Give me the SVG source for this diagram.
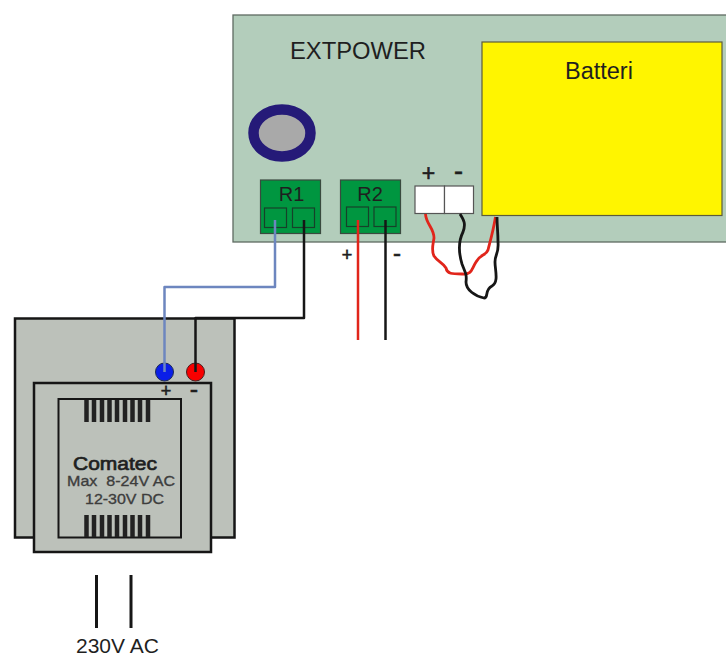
<svg xmlns="http://www.w3.org/2000/svg" width="726" height="656" viewBox="0 0 726 656">
<style>
text{font-family:"Liberation Sans",Arial,sans-serif;fill:#1f1f1f}
.w{fill:none;stroke-linejoin:round;stroke-linecap:butt}
.k{stroke:#161616}
.r{stroke:#e1251b}
.b{stroke:#6d86bf}
.tb{fill:#009640;stroke:#3a4a3f;stroke-width:1.2}
.slot{fill:#009640;stroke:#16412a;stroke-width:1.2}
.g{fill:#bcc1ba;stroke:#161616;stroke-width:2.5}
.fin{stroke:#222;stroke-width:4.5;fill:none}
.sub{fill:#3d3d3d;stroke:#3d3d3d;stroke-width:.35}
.sym{stroke:#1f1f1f;stroke-width:.6}
</style>
<rect width="726" height="656" fill="#fff"/>
<g id="extpower">
<rect x="233" y="15" width="500" height="227" fill="#b3cdbb" stroke="#5f6a62" stroke-width="1.300"/>
<text x="290" y="59" font-size="24" textLength="136" lengthAdjust="spacingAndGlyphs">EXTPOWER</text>
</g>
<g id="battery">
<rect x="482" y="42" width="240" height="173.500" fill="#fff500" stroke="#5c5c3a" stroke-width="1.200"/>
<text x="565" y="79" font-size="23.500">Batteri</text>
</g>
<g id="knob">
<ellipse cx="282" cy="133" rx="28.500" ry="23.500" fill="#a9a9a9" stroke="#251a78" stroke-width="10.500"/>
</g>
<g id="R1">
<rect class="tb" x="260.500" y="180" width="60" height="53.500"/>
<rect class="slot" x="264.500" y="208" width="22" height="19.500"/>
<rect class="slot" x="292.500" y="208" width="22" height="19.500"/>
<text x="291.500" y="201" font-size="20" text-anchor="middle">R1</text>
</g>
<g id="R2">
<rect class="tb" x="340.500" y="180" width="60" height="53.500"/>
<rect class="slot" x="346.500" y="207" width="22" height="19.500"/>
<rect class="slot" x="374" y="207" width="22" height="19.500"/>
<text x="370" y="201" font-size="20" text-anchor="middle">R2</text>
<text class="sym" x="347" y="261" font-size="18" text-anchor="middle">+</text>
<text class="sym" x="397" y="261" font-size="24" text-anchor="middle">-</text>
</g>
<g id="battery-terminal">
<rect x="415" y="186" width="29.500" height="27.500" fill="#fff" stroke="#555" stroke-width="1.200"/>
<rect x="444.500" y="186" width="29" height="27.500" fill="#fff" stroke="#555" stroke-width="1.200"/>
<text class="sym" x="428.500" y="181" font-size="23" text-anchor="middle">+</text>
<text class="sym" x="458.500" y="180" font-size="27" text-anchor="middle">-</text>
</g>
<g id="transformer">
<rect class="g" x="15" y="318.500" width="219.500" height="219"/>
<rect class="g" x="34" y="383" width="177" height="169"/>
<rect x="58.500" y="399" width="122.500" height="138.500" fill="#bcc1ba" stroke="#161616" stroke-width="2"/>
<path class="fin" d="M86.500 400v22M94 400v22M102 400v22M109.500 400v22M117 400v22M125 400v22M132.500 400v22M140 400v22M148 400v22M86.500 515v22M94 515v22M102 515v22M109.500 515v22M117 515v22M125 515v22M132.500 515v22M140 515v22M148 515v22"/>
<text x="73" y="470" font-size="19" stroke="#1f1f1f" stroke-width=".7" textLength="84" lengthAdjust="spacingAndGlyphs">Comatec</text>
<text class="sub" x="67" y="486" font-size="15" textLength="108" lengthAdjust="spacingAndGlyphs" xml:space="preserve">Max  8-24V AC</text>
<text class="sub" x="85" y="504" font-size="15" textLength="79" lengthAdjust="spacingAndGlyphs">12-30V DC</text>
<text class="sym" x="166" y="397" font-size="18" text-anchor="middle">+</text>
<text class="sym" x="194" y="398" font-size="25" text-anchor="middle">-</text>
</g>
<g id="terminal-blue"><circle cx="164.500" cy="372" r="9" fill="#0a1ee8" stroke="#1c2a55" stroke-width="1"/></g>
<g id="terminal-red"><circle cx="195.500" cy="372" r="9" fill="#f80000" stroke="#4a1c1c" stroke-width="1"/></g>
<g id="mains">
<path class="w k" stroke-width="3" d="M96.500 575v53M131 575v53"/>
<text x="76" y="653" font-size="21">230V AC</text>
</g>
<g id="connectors">
<path class="w b" stroke-width="2.500" d="M275 220V287H164.500V372"/>
<path class="w k" stroke-width="2.500" d="M304 220V318H195.500V372"/>
<path class="w r" stroke-width="2.500" d="M358 220V340"/>
<path class="w k" stroke-width="2.500" d="M385.500 220V340"/>
<path class="w r" stroke-width="2.800" d="M425.500 214C426 224 434 228 434 238C433 245 431 250 434 256C438 262 443 263 446 268C447 274 452 274 462 274C472 275 471 270 476 262C480 254 486 256 488 250C490 242 493 232 495.500 217"/>
<path class="w k" stroke-width="2.800" d="M460 214C464 220 466 224 463 232C458 242 459 254 462 264C465 272 467 274 466 282C466 290 475 296 484 298C489 298 484 290 492 286C499 282 495 270 495 262C495 254 499 254 498 242C498 232 497 226 497 217"/>
</g>
</svg>
